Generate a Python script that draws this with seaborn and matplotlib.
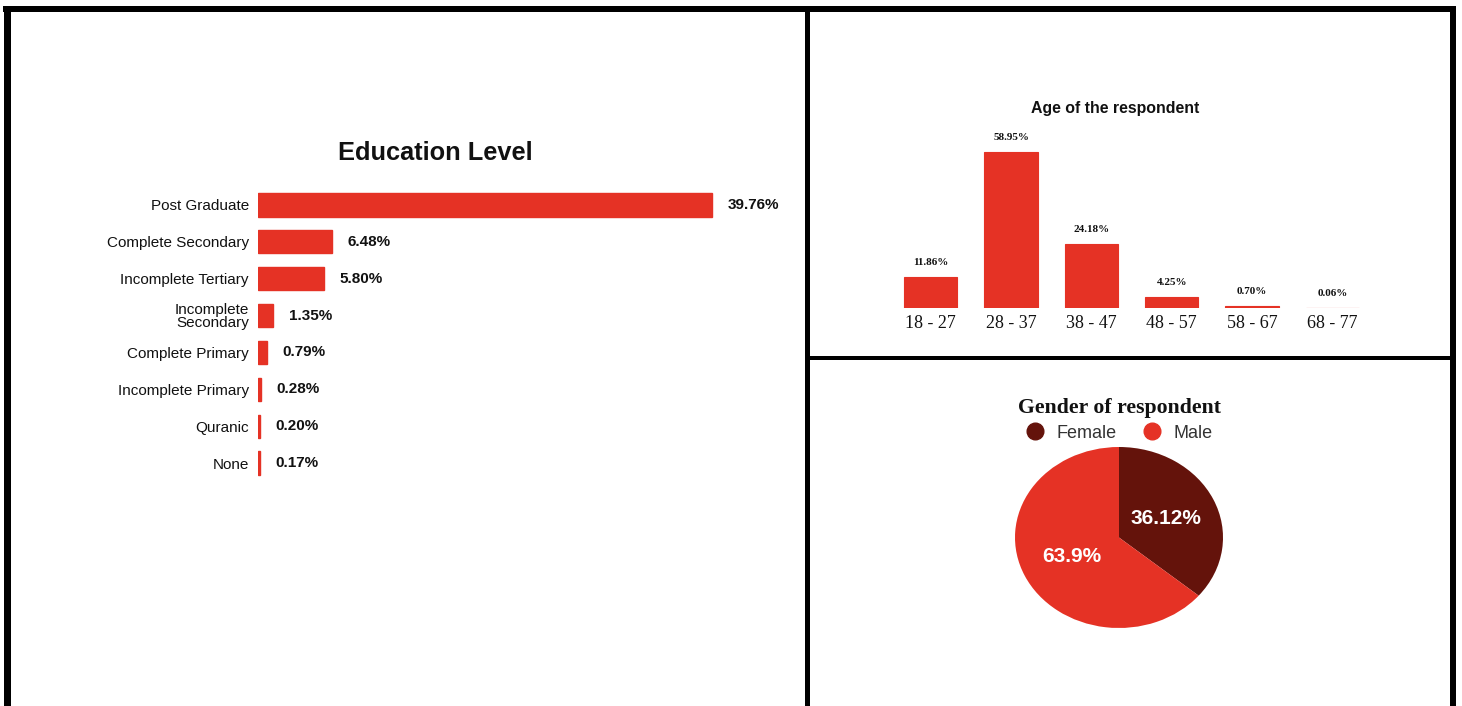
import matplotlib
matplotlib.use("Agg")
import matplotlib.pyplot as plt
from matplotlib.lines import Line2D
import seaborn as sns
import pandas as pd

# ---------------- data ----------------
edu_levels = ["Post Graduate", "Complete Secondary", "Incomplete Tertiary",
              "Incomplete\nSecondary", "Complete Primary", "Incomplete Primary",
              "Quranic", "None"]
edu_values = [39.76, 6.48, 5.80, 1.35, 0.79, 0.28, 0.20, 0.17]
edu_labels = ["39.76%", "6.48%", "5.80%", "1.35%", "0.79%", "0.28%", "0.20%", "0.17%"]

age_groups = ["18 - 27", "28 - 37", "38 - 47", "48 - 57", "58 - 67", "68 - 77"]
age_values = [11.86, 58.95, 24.18, 4.25, 0.70, 0.06]
age_labels = ["11.86%", "58.95%", "24.18%", "4.25%", "0.70%", "0.06%"]

gender_names = ["Female", "Male"]
gender_values = [36.12, 63.9]
gender_labels = ["36.12%", "63.9%"]

RED = "#E53225"
DARK = "#64130B"

sns.set_theme(style="white")
plt.rcParams["font.family"] = ["Liberation Sans", "DejaVu Sans"]

W, H = 1462, 706
fig = plt.figure(figsize=(W / 100, H / 100), dpi=100)
fig.patch.set_facecolor("white")


def fx(x):
    return x / W


def fy(y):
    return 1 - y / H


def box(l, t, r, b):
    return [fx(l), fy(b), fx(r) - fx(l), fy(t) - fy(b)]


# ---------------- panel borders ----------------
def hline(y, x0, x1, px):
    fig.add_artist(Line2D([fx(x0), fx(x1)], [fy(y), fy(y)], color="black",
                          lw=px * 0.72, solid_capstyle="butt"))


def vline(x, y0, y1, px):
    fig.add_artist(Line2D([fx(x), fx(x)], [fy(y0), fy(y1)], color="black",
                          lw=px * 0.72, solid_capstyle="butt"))


hline(9, 3, 1456, 6)
vline(6.5, 6, 706, 7)
vline(806.5, 6, 706, 5)
vline(1453, 6, 706, 6)
hline(358, 806, 1453, 4)

# ---------------- Education level ----------------
ax1 = fig.add_axes(box(258, 186.5, 772, 481.5))
edu_df = pd.DataFrame({"level": edu_levels, "value": edu_values})
sns.barplot(data=edu_df, x="value", y="level", orient="h", color=RED,
            width=0.63, saturation=1, edgecolor=RED, linewidth=1, ax=ax1)
ax1.set_xlim(0, 45)
ax1.set_xlabel("")
ax1.set_ylabel("")
ax1.set_xticks([])
for s in ax1.spines.values():
    s.set_visible(False)
ax1.tick_params(axis="y", length=0, pad=6.5, labelsize=11, labelcolor="#111111")
for lab in ax1.get_yticklabels():
    lab.set_linespacing(0.9)
ax1.bar_label(ax1.containers[0], labels=edu_labels, padding=11,
              fontsize=11, fontweight="bold", color="#111111")
fig.text(fx(435), fy(153), "Education Level", ha="center", va="center",
         fontsize=18.3, fontweight="bold", color="#111111")

# ---------------- Age of the respondent ----------------
ax2 = fig.add_axes(box(890.5, 136, 1372.5, 308))
age_df = pd.DataFrame({"age": age_groups, "value": age_values})
sns.barplot(data=age_df, x="age", y="value", color=RED, width=0.66,
            saturation=1, edgecolor=RED, linewidth=0.8, ax=ax2)
ax2.set_ylim(0, 65)
ax2.set_xlabel("")
ax2.set_ylabel("")
ax2.set_yticks([])
for s in ax2.spines.values():
    s.set_visible(False)
ax2.tick_params(axis="x", length=0, pad=5)
for lab in ax2.get_xticklabels():
    lab.set_fontfamily(["Liberation Serif", "DejaVu Serif"])
    lab.set_fontsize(13)
    lab.set_color("#111111")
ax2.bar_label(ax2.containers[0], labels=age_labels, padding=7,
              fontsize=8, fontweight="bold", color="#111111",
              family=["Liberation Serif", "DejaVu Serif"])
fig.text(fx(1115), fy(108), "Age of the respondent", ha="center", va="center",
         fontsize=11.4, fontweight="bold", color="#111111")

# ---------------- Gender of respondent ----------------
rx, ry = 104, 90.5
cx, cy = 1119, 537.5
pad = 1.05
ax3 = fig.add_axes(box(cx - rx * pad, cy - ry * pad, cx + rx * pad, cy + ry * pad))
lab_iter = iter(gender_labels)
wedges, texts, autotexts = ax3.pie(
    gender_values, colors=[DARK, RED], startangle=90, counterclock=False,
    autopct=lambda p: next(lab_iter), pctdistance=0.5,
    wedgeprops=dict(linewidth=0),
    textprops=dict(color="white", fontsize=15, fontweight="bold"))
ax3.set_aspect("auto")
ax3.set_xlim(-pad, pad)
ax3.set_ylim(-pad, pad)
ax3.axis("off")

fig.text(fx(1120), fy(408), "Gender of respondent", ha="center", va="center",
         fontsize=15.7, fontweight="bold", color="#111111",
         family=["Liberation Serif", "DejaVu Serif"])
handles = [Line2D([0], [0], marker="o", linestyle="none", markersize=12,
                  markerfacecolor=c, markeredgecolor=c) for c in [DARK, RED]]
fig.legend(handles, gender_names, loc="center", ncol=2, frameon=False,
           bbox_to_anchor=(fx(1115), fy(433)), fontsize=13,
           handletextpad=0.2, columnspacing=0.95, labelcolor="#333333")

fig.savefig("out.png", dpi=100, facecolor="white")
